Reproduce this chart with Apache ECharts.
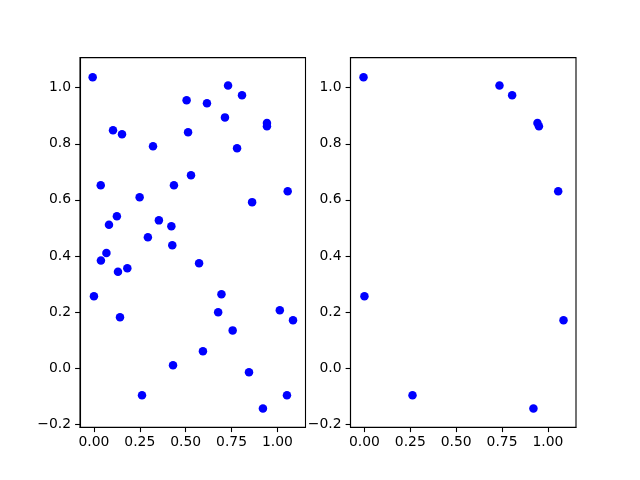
<!DOCTYPE html>
<html>
<head>
<meta charset="utf-8">
<script src="https://cdn.jsdelivr.net/npm/echarts@6/dist/echarts.min.js"></script>
<style>html,body{margin:0;padding:0;background:#fff}#c{width:640px;height:480px}</style>
</head>
<body>
<div id="c"></div>
<script>
// Left panel: all points
const leftX = [-0.007,0.731,0.807,0.505,0.616,0.714,0.943,0.943,0.104,0.153,0.513,0.322,0.780,0.529,0.037,0.436,0.249,1.056,0.862,0.125,0.082,0.354,0.422,0.294,0.427,0.068,0.038,0.573,0.131,0.182,0.000,0.695,0.677,1.013,1.085,0.142,0.756,0.594,0.431,0.845,0.262,1.052,0.921];
const leftY = [1.037,1.008,0.973,0.955,0.944,0.894,0.874,0.862,0.848,0.834,0.841,0.791,0.784,0.688,0.652,0.652,0.609,0.631,0.592,0.542,0.511,0.527,0.506,0.467,0.438,0.411,0.384,0.374,0.344,0.356,0.257,0.264,0.200,0.207,0.171,0.182,0.135,0.061,0.011,-0.014,-0.096,-0.096,-0.143];
// Right panel: subset of points
const rightX = [-0.005,0.736,0.805,0.943,0.951,1.056,1.085,0.921,0.262,0.000];
const rightY = [1.037,1.008,0.973,0.874,0.862,0.631,0.171,-0.143,-0.096,0.257];
// Tick labels
const xTicks = [0, 0.25, 0.5, 0.75, 1.0];
const yTicks = [-0.2, 0, 0.2, 0.4, 0.6, 0.8, 1.0];

const font = 'DejaVu Sans';
const fs = 13.9;
const fmtX = v => v.toFixed(2).replace('-', '\u2212');
const fmtY = v => v.toFixed(1).replace('-', '\u2212');

function xAxis(i){
  return {
    type:'value', gridIndex:i, min:-0.076, max:1.153, position:'bottom',
    splitLine:{show:false},
    axisLine:{show:true, onZero:false, lineStyle:{color:'#000', width:1.1}},
    axisTick:{show:true, inside:false, length:4.9, lineStyle:{color:'#000', width:1.1}, customValues:xTicks},
    axisLabel:{show:true, customValues:xTicks, formatter:fmtX, color:'#000', fontFamily:font, fontSize:fs, margin:8}
  };
}
function yAxis(i){
  return {
    type:'value', gridIndex:i, min:-0.210, max:1.107, position:'left',
    splitLine:{show:false},
    axisLine:{show:true, onZero:false, lineStyle:{color:'#000', width:1.1}},
    axisTick:{show:true, inside:false, length:4.9, lineStyle:{color:'#000', width:1.1}, customValues:yTicks},
    axisLabel:{show:true, customValues:yTicks, formatter:fmtY, color:'#000', fontFamily:font, fontSize:fs, margin:9}
  };
}

const chart = echarts.init(document.getElementById('c'), null, {renderer:'canvas'});
chart.setOption({
  animation:false,
  backgroundColor:'#fff',
  grid:[
    {left:80, top:57.6, width:225.5, height:369.6, show:true, borderColor:'#000', borderWidth:1.1, backgroundColor:'transparent'},
    {left:350.5, top:57.6, width:225.5, height:369.6, show:true, borderColor:'#000', borderWidth:1.1, backgroundColor:'transparent'}
  ],
  xAxis:[xAxis(0), xAxis(1)],
  yAxis:[yAxis(0), yAxis(1)],
  series:[
    {type:'scatter', xAxisIndex:0, yAxisIndex:0, symbolSize:8.5, itemStyle:{color:'#0000ff', opacity:1},
     data:leftX.map((x,i)=>[x,leftY[i]])},
    {type:'scatter', xAxisIndex:1, yAxisIndex:1, symbolSize:8.5, itemStyle:{color:'#0000ff', opacity:1},
     data:rightX.map((x,i)=>[x,rightY[i]])}
  ]
});
</script>
</body>
</html>
